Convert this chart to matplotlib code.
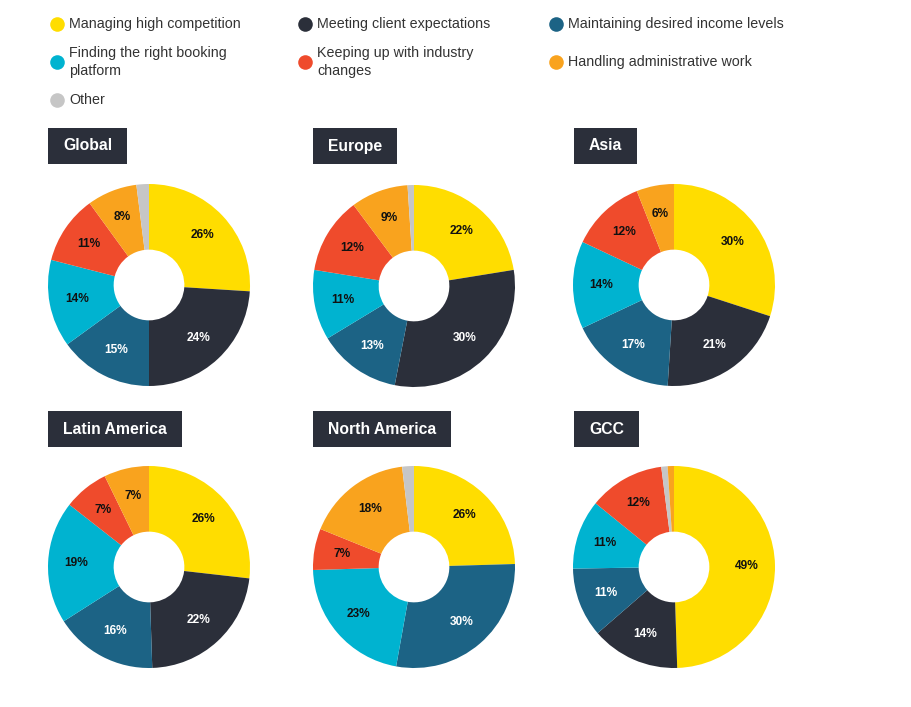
import numpy as np
import matplotlib
matplotlib.use("Agg")
import matplotlib.pyplot as plt
from matplotlib.lines import Line2D
from matplotlib.patches import Rectangle

plt.rcParams['font.family'] = ['Liberation Sans', 'DejaVu Sans']

W, H = 911, 707

# categories in default clockwise order
categories = [
    "Managing high competition",
    "Meeting client expectations",
    "Maintaining desired income levels",
    "Finding the right booking\nplatform",
    "Keeping up with industry\nchanges",
    "Handling administrative work",
    "Other",
]
colors = ["#FFDD00", "#2B2F3A", "#1C6385", "#00B3D0", "#EF4B2C", "#F9A31E", "#C6C6C6"]
white_text = {1, 2}

regions = ["Global", "Europe", "Asia", "Latin America", "North America", "GCC"]
global_vals = [26, 24, 15, 14, 11, 8, 2]
europe_vals = [22, 30, 13, 11, 12, 9, 1]
asia_vals = [30, 21, 17, 14, 12, 6, 0]
latam_vals = [26, 22, 16, 19, 7, 7, 0]
namerica_vals = [26, 0, 30, 23, 7, 18, 2]
gcc_vals = [49, 14, 11, 11, 12, 1, 1]
all_vals = [global_vals, europe_vals, asia_vals, latam_vals, namerica_vals, gcc_vals]
# GCC draws "Other" before "Handling administrative work"
slice_orders = [list(range(7))] * 5 + [[0, 1, 2, 3, 4, 6, 5]]
min_label = 5  # slivers below this carry no label

centers = [(149, 285), (414, 286), (674, 285), (149, 567), (414, 567), (674, 567)]
title_pos = [(48, 128), (313, 128), (574, 128), (48, 411), (313, 411), (574, 411)]
R = 101

fig = plt.figure(figsize=(W / 100, H / 100), dpi=100)
fig.patch.set_facecolor("white")

# legend
leg_x = [57, 305, 556]
leg_rows = [24, 62, 100]
for i, (cat, col) in enumerate(zip(categories, colors)):
    r, c = divmod(i, 3)
    x, y = leg_x[c], leg_rows[r]
    fig.add_artist(Line2D([x / W], [1 - y / H], marker="o", markersize=10.5,
                          color=col, markeredgewidth=0, linestyle="none"))
    fig.text((x + 12) / W, 1 - y / H, cat, fontsize=10.3, color="#333333",
             va="center", ha="left", linespacing=1.3)

renderer = fig.canvas.get_renderer()

for k, name in enumerate(regions):
    cx, cy = centers[k]
    ax = fig.add_axes([(cx - R) / W, 1 - (cy + R) / H, 2 * R / W, 2 * R / H])
    order = slice_orders[k]
    vals = [all_vals[k][i] for i in order]
    cols = [colors[i] for i in order]
    wedges, _ = ax.pie(vals, colors=cols, startangle=90, counterclock=False,
                       radius=1, wedgeprops=dict(width=0.65, linewidth=0))
    for w, v, idx in zip(wedges, vals, order):
        if v < min_label:
            continue
        ang = np.deg2rad((w.theta1 + w.theta2) / 2)
        rr = 0.72
        ax.text(rr * np.cos(ang), rr * np.sin(ang), f"{v}%", ha="center", va="center",
                fontsize=8.6, fontweight="bold",
                color="white" if idx in white_text else "#111111")
    ax.set_xlim(-1, 1)
    ax.set_ylim(-1, 1)
    ax.set_aspect("equal")
    ax.axis("off")

    # title box
    tx, ty = title_pos[k]
    t = fig.text((tx + 15) / W, 1 - (ty + 18) / H, name, fontsize=11.3,
                 fontweight="bold", color="white", ha="left", va="center", zorder=5)
    bb = t.get_window_extent(renderer)
    bw = bb.width + 30
    fig.add_artist(Rectangle((tx / W, 1 - (ty + 36) / H), bw / W, 36 / H,
                             transform=fig.transFigure, facecolor="#2B2F3A",
                             edgecolor="none", zorder=4))

fig.savefig("out.png", dpi=100)
